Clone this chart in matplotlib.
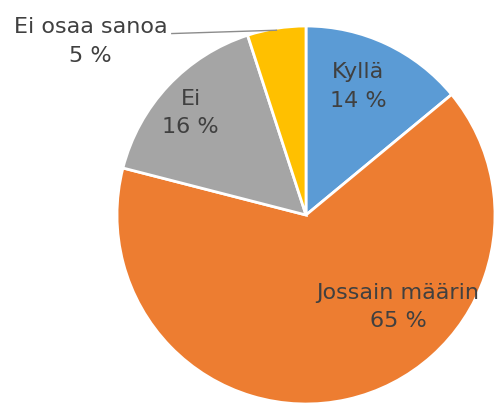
import numpy as np
import matplotlib.pyplot as plt

labels = ['Kyllä', 'Jossain määrin', 'Ei', 'Ei osaa sanoa']
values = [14, 65, 16, 5]
colors = ['#5B9BD5', '#ED7D31', '#A5A5A5', '#FFC000']

fig = plt.figure(figsize=(4.96, 4.04), dpi=100)
ax = fig.add_axes([117 / 496, 0, 378 / 496, 378 / 404])

wedges, _ = ax.pie(values, colors=colors, startangle=90, counterclock=False,
                   wedgeprops=dict(edgecolor='white', linewidth=2))
ax.set_xlim(-1, 1)
ax.set_ylim(-1, 1)
ax.set_aspect('equal')

# label positions (data coords), inside slices except the last one
label_pos = [(0.275, 0.68), (0.487, -0.487), (-0.61, 0.54), (-1.14, 0.92)]
for lab, v, (x, y) in zip(labels, values, label_pos):
    ax.text(x, y, f"{lab}\n{v} %", ha='center', va='center', fontsize=16,
            color='#404040', linespacing=1.55, clip_on=False)

# leader line for the small slice
w = wedges[3]
mid = np.deg2rad((w.theta1 + w.theta2) / 2)
ax.plot([-0.71, np.cos(mid)], [0.96, np.sin(mid) - 0.01], color='#8C8C8C',
        lw=1, clip_on=False)

plt.savefig('out.png')
plt.close()
